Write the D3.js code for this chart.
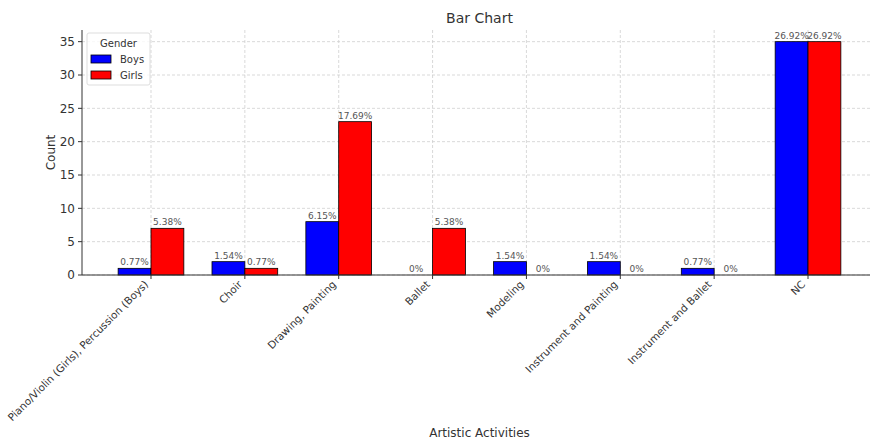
<!DOCTYPE html>
<html>
<head>
<meta charset="utf-8">
<script src="https://d3js.org/d3.v7.min.js"></script>
<style>
  body { margin: 0; background: #fff; }
  text { font-family: "DejaVu Sans", sans-serif; }
</style>
</head>
<body>
<div id="canvas"></div>
<script>
"use strict"

/* data */
let categories = ["Piano/Violin (Girls), Percussion (Boys)", "Choir", "Drawing, Painting", "Ballet",
    "Modeling", "Instrument and Painting", "Instrument and Ballet", "NC"];
let boys = [1, 2, 8, 0, 2, 2, 1, 35];
let girls = [7, 1, 23, 7, 0, 0, 0, 35];
let boysPct = ["0.77%", "1.54%", "6.15%", "0%", "1.54%", "1.54%", "0.77%", "26.92%"];
let girlsPct = ["5.38%", "0.77%", "17.69%", "5.38%", "0%", "0%", "0%", "26.92%"];
let yTicks = [0, 5, 10, 15, 20, 25, 30, 35];
let seriesNames = ["Boys", "Girls"];
let seriesColors = ["#0000ff", "#ff0000"];

/* drawing */
let svgWidth = 870;
let svgHeight = 440;
let leftX = 82;
let rightX = 877;   // plot runs past the right edge, as in the reference
let topY = 30;
let bottomY = 275;
let barWidth = 0.35;

let svg = d3.select("#canvas")
    .append("svg")
    .attr("width", svgWidth)
    .attr("height", svgHeight);

let xScale = d3.scaleLinear()
    .domain([-0.735, 7.735])
    .range([leftX, rightX]);

let yScale = d3.scaleLinear()
    .domain([0, 36.75])
    .range([bottomY, topY]);

/* grid */
let grid = svg.append("g");
yTicks.forEach(function (t) {
    grid.append("line")
        .attr("x1", leftX).attr("x2", rightX)
        .attr("y1", yScale(t)).attr("y2", yScale(t))
        .attr("stroke", "#cfcfcf").attr("stroke-width", 0.8)
        .attr("stroke-dasharray", "3,2");
});
categories.forEach(function (c, i) {
    grid.append("line")
        .attr("x1", xScale(i)).attr("x2", xScale(i))
        .attr("y1", topY).attr("y2", bottomY)
        .attr("stroke", "#cfcfcf").attr("stroke-width", 0.8)
        .attr("stroke-dasharray", "3,2");
});

/* bars */
let series = [boys, girls];
let labels = [boysPct, girlsPct];
for (let s = 0; s < 2; s++) {
    let offset = s == 0 ? -barWidth : 0;
    svg.append("g").selectAll("rect")
        .data(series[s])
        .join("rect")
        .attr("x", function (v, i) { return xScale(i + offset); })
        .attr("width", xScale(barWidth) - xScale(0))
        .attr("y", function (v) { return yScale(v); })
        .attr("height", function (v) { return yScale(0) - yScale(v); })
        .attr("fill", seriesColors[s])
        .attr("stroke", "#000")
        .attr("stroke-width", 0.8);

    svg.append("g").selectAll("text")
        .data(series[s])
        .join("text")
        .attr("x", function (v, i) { return xScale(i + offset + barWidth / 2); })
        .attr("y", function (v) { return yScale(v) - 3; })
        .attr("text-anchor", "middle")
        .attr("font-size", 9)
        .attr("fill", "#555")
        .text(function (v, i) { return labels[s][i]; });
}

/* axes lines */
svg.append("line")
    .attr("x1", leftX).attr("x2", leftX)
    .attr("y1", topY).attr("y2", bottomY)
    .attr("stroke", "#333").attr("stroke-width", 1);
svg.append("line")
    .attr("x1", leftX).attr("x2", rightX)
    .attr("y1", bottomY).attr("y2", bottomY)
    .attr("stroke", "#333").attr("stroke-width", 1);

/* y ticks */
yTicks.forEach(function (t) {
    svg.append("line")
        .attr("x1", leftX - 4).attr("x2", leftX)
        .attr("y1", yScale(t)).attr("y2", yScale(t))
        .attr("stroke", "#333");
    svg.append("text")
        .attr("x", leftX - 7)
        .attr("y", yScale(t))
        .attr("dy", "0.35em")
        .attr("text-anchor", "end")
        .attr("font-size", 12)
        .attr("fill", "#333")
        .text(t);
});

/* x ticks */
categories.forEach(function (c, i) {
    svg.append("line")
        .attr("x1", xScale(i)).attr("x2", xScale(i))
        .attr("y1", bottomY).attr("y2", bottomY + 4)
        .attr("stroke", "#333");
    let px = xScale(i) - 2;
    let py = bottomY + 10;
    svg.append("text")
        .attr("x", px)
        .attr("y", py)
        .attr("text-anchor", "end")
        .attr("font-size", 10.4)
        .attr("fill", "#333")
        .attr("transform", `rotate(-45 ${px} ${py})`)
        .text(c);
});

/* titles */
svg.append("text")
    .attr("x", (leftX + rightX) / 2)
    .attr("y", 23)
    .attr("text-anchor", "middle")
    .attr("font-size", 14)
    .attr("fill", "#333")
    .text("Bar Chart");

svg.append("text")
    .attr("x", (leftX + rightX) / 2)
    .attr("y", 437)
    .attr("text-anchor", "middle")
    .attr("font-size", 12)
    .attr("fill", "#333")
    .text("Artistic Activities");

svg.append("text")
    .attr("transform", `translate(55 ${(topY + bottomY) / 2}) rotate(-90)`)
    .attr("text-anchor", "middle")
    .attr("font-size", 12)
    .attr("fill", "#333")
    .text("Count");

/* legend */
let legend = svg.append("g").attr("transform", "translate(87 33)");
legend.append("rect")
    .attr("width", 63).attr("height", 52)
    .attr("rx", 2)
    .attr("fill", "#fff").attr("fill-opacity", 0.8)
    .attr("stroke", "#ddd");
legend.append("text")
    .attr("x", 31.5).attr("y", 14)
    .attr("text-anchor", "middle")
    .attr("font-size", 10)
    .attr("fill", "#333")
    .text("Gender");
seriesNames.forEach(function (n, i) {
    legend.append("rect")
        .attr("x", 4).attr("y", 22 + i * 16)
        .attr("width", 20).attr("height", 8)
        .attr("fill", seriesColors[i])
        .attr("stroke", "#000").attr("stroke-width", 0.8);
    legend.append("text")
        .attr("x", 33).attr("y", 26 + i * 16)
        .attr("dy", "0.35em")
        .attr("font-size", 10)
        .attr("fill", "#333")
        .text(n);
});
</script>
</body>
</html>
